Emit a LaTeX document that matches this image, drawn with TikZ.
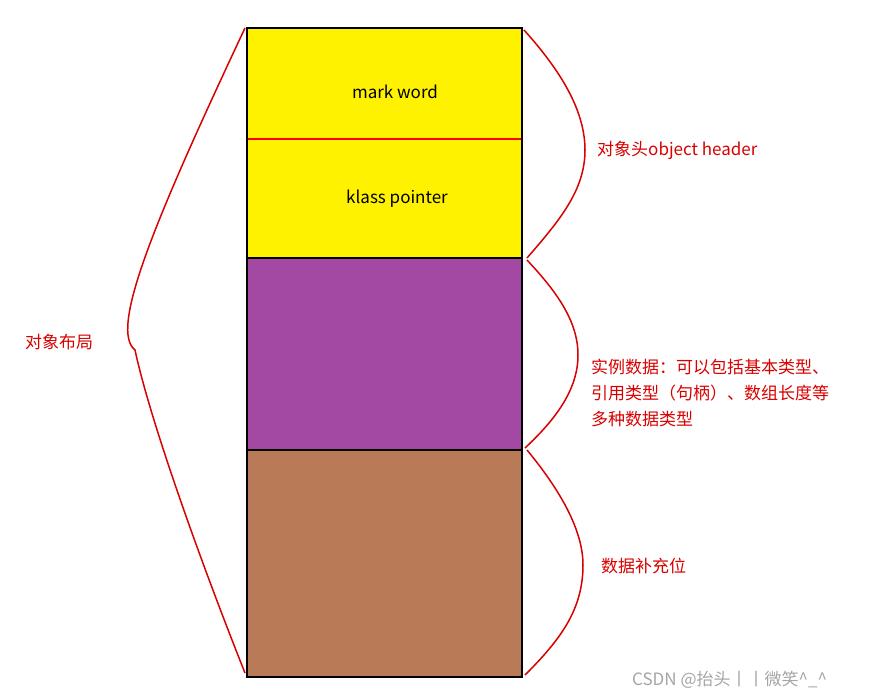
\documentclass[tikz,border=0pt]{standalone}
\usepackage{fontspec}
\setmainfont{Noto Sans CJK SC}
\begin{document}
\begin{tikzpicture}[x=1pt,y=-1pt,
  lbl/.style={text=red!85!black,font=\fontsize{17}{26}\selectfont,anchor=west,inner sep=0},
  blk/.style={font=\fontsize{17}{20}\selectfont,inner sep=0},
  br/.style={draw=red!85!black,line width=1.5pt}]
\useasboundingbox (0,0) rectangle (871,698);
\fill[white] (0,0) rectangle (871,698);
\fill[fill={rgb,255:red,255;green,242;blue,0}] (247,28) rectangle (522,258);
\fill[fill={rgb,255:red,163;green,73;blue,164}] (247,258) rectangle (522,450);
\fill[fill={rgb,255:red,185;green,122;blue,87}] (247,450) rectangle (522,677);
\draw[red,line width=1.5pt] (247,139) -- (522,139);
\draw[line width=2pt] (247,28) rectangle (522,677);
\draw[line width=2pt] (247,258) -- (522,258) (247,450) -- (522,450);
\node[blk] (mw) at (395,92) {mark word};
\node[blk] (kp) at (397,199) {klass pointer};
\draw[br] (245,28) .. controls (150,230) and (110,330) .. (135,350) .. controls (150,420) and (200,560) .. (245,673);
\draw[br] (524,30) .. controls (560,70) and (585,110) .. (585,150) .. controls (585,190) and (560,220) .. (527,258);
\draw[br] (527,260) .. controls (555,290) and (578,320) .. (578,355) .. controls (578,390) and (555,420) .. (525,448);
\draw[br] (527,450) .. controls (560,490) and (583,530) .. (583,565) .. controls (583,610) and (560,640) .. (525,675);
\node[lbl] (oh) at (597,150) {对象头object header};
\node[lbl] (ol) at (25,342) {对象布局};
\node[lbl,align=left] (id) at (591,393) {实例数据：可以包括基本类型、\\引用类型（句柄）、数组长度等\\多种数据类型};
\node[lbl] (pd) at (601,566) {数据补充位};
\node[anchor=west,inner sep=0,text=gray!70,font=\fontsize{17}{20}\selectfont] (wm) at (632,680) {CSDN @抬头丨丨微笑\^{}\_\^{}};
\end{tikzpicture}
\end{document}
